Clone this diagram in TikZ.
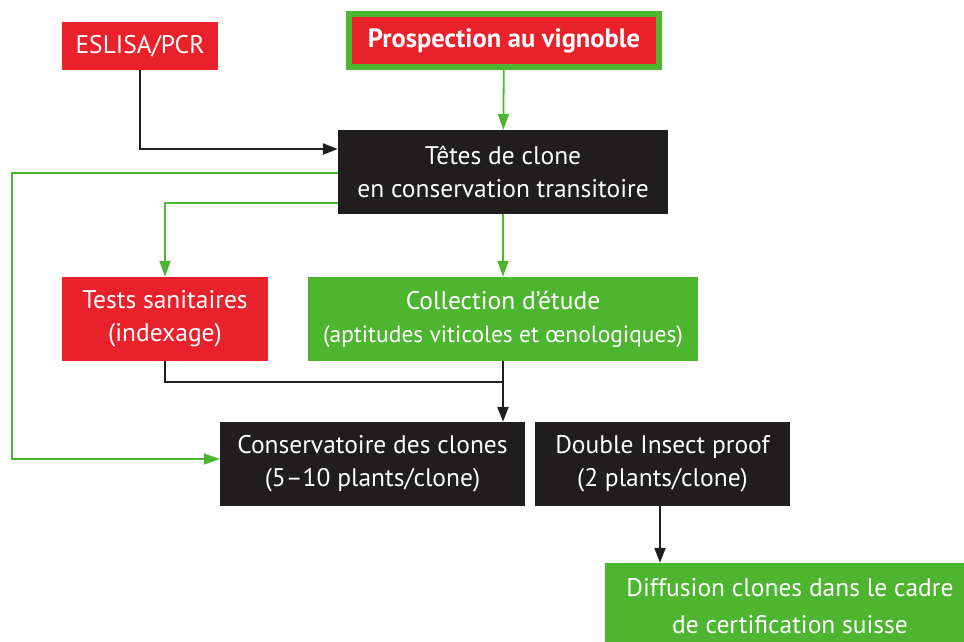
\documentclass[tikz,border=0pt]{standalone}
\usepackage{fontspec}
\setmainfont{PT Sans}
\usetikzlibrary{arrows.meta, positioning, calc}
\definecolor{agsred}{HTML}{E8212B}
\definecolor{agsgreen}{HTML}{4DB530}
\definecolor{agsblack}{HTML}{1F1D1D}
\tikzset{
    box/.style={
        rectangle, text=white, align=center, inner sep=0pt,
        font=\fontsize{25.5}{33}\selectfont
    },
    redbox/.style={box, fill=agsred},
    greenbox/.style={box, fill=agsgreen},
    blackbox/.style={box, fill=agsblack},
    % connectors
    bline/.style={draw=agsblack, line width=2.2pt, -{Triangle[length=15pt,width=11pt]}},
    gline/.style={draw=agsgreen, line width=1.8pt, -{Triangle[length=16pt,width=11pt]}}
}
\begin{document}
\begin{tikzpicture}[x=1pt, y=-1pt]
    \clip (0,0) rectangle (964,641);
    \node[redbox, minimum width=156, minimum height=48] (eslisa) at (140,46) {ESLISA/PCR};
    \node[redbox, draw=agsgreen, line width=6pt, minimum width=310, minimum height=53, font=\fontsize{26.5}{33}\selectfont\bfseries] (prosp) at (504,40.5) {Prospection au vignoble};
    \node[blackbox, minimum width=330, minimum height=84] (tetes) at (503,172) {Têtes de clone\\en conservation transitoire};
    \node[redbox, minimum width=206, minimum height=84] (tests) at (165,319) {Tests sanitaires\\(indexage)};
    \node[greenbox, minimum width=390, minimum height=84] (collec) at (503,319) {Collection d’étude\\{\fontsize{23.5}{32}\selectfont (aptitudes viticoles et œnologiques)}};
    \node[blackbox, minimum width=305, minimum height=84] (conserv) at (372.5,464) {Conservatoire des clones\\(5–10 plants/clone)};
    \node[blackbox, minimum width=255, minimum height=84] (insect) at (662.5,464) {Double Insect proof\\(2 plants/clone)};
    \node[greenbox, minimum width=370, minimum height=87, font=\fontsize{25.5}{37}\selectfont] (diffusion) at (790,606.5) {Diffusion clones dans le cadre\\de certification suisse};

    \coordinate (join) at ($(collec.south)+(0,21)$);

    \draw[bline] (eslisa) |- ($(tetes.west)+(0,-23)$);
    \draw[gline] (prosp) -- (tetes);
    \draw[gline] ($(tetes.west)+(0,1)$) -- ++(-326,0) |- ($(conserv.west)+(0,-5)$);
    \draw[gline] ($(tetes.west)+(0,31)$) -| (tests);
    \draw[gline] (tetes) -- (collec);
    \draw[bline, -] (tests) |- (join);
    \draw[bline] (collec) -- (collec.south |- conserv.north);
    \draw[bline] (insect.south -| 660,0) -- (diffusion.north -| 660,0);
\end{tikzpicture}
\end{document}
